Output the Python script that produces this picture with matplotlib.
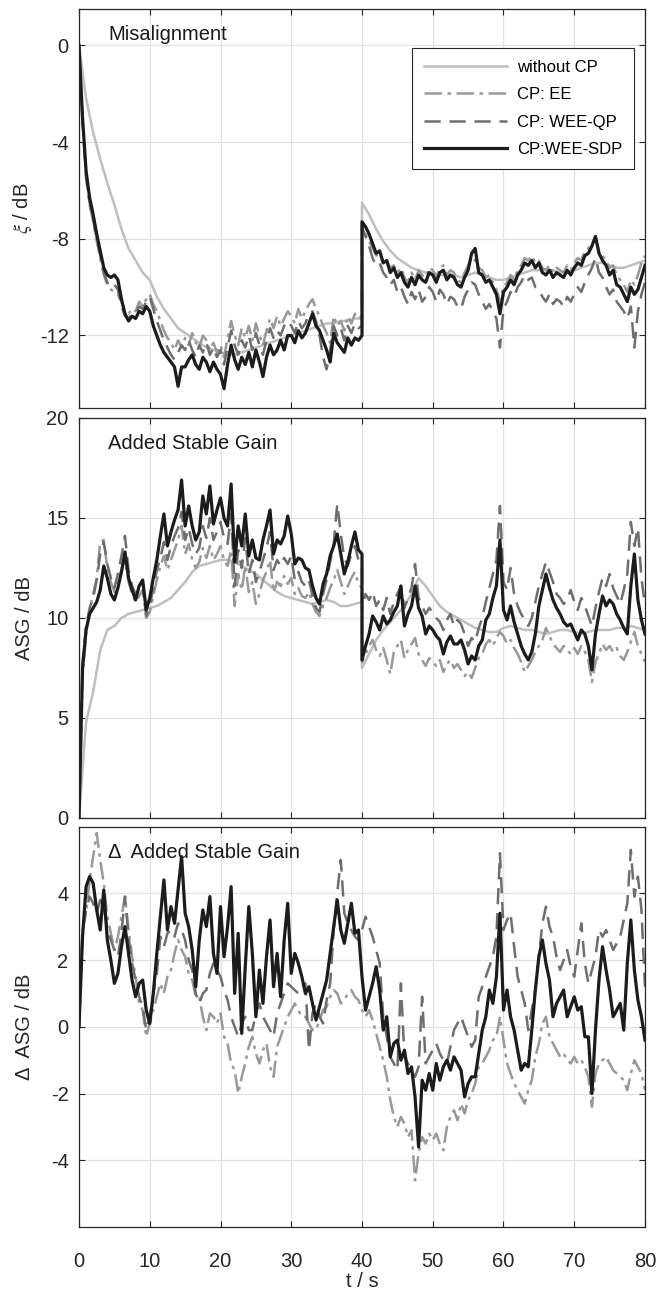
import numpy as np
import matplotlib.pyplot as plt

# ---------------------------------------------------------------------------
# Data. Grids: 0..40 s and 40..80 s with 0.5 s steps,
# the reference curve "without CP" with 1 s steps. t = 40 s appears in both
# halves so the jump at the change of the path is drawn vertically.
# ---------------------------------------------------------------------------
t_a = np.linspace(0, 40, 81)
t_b = np.linspace(40, 80, 81)
t_a1 = np.linspace(0, 40, 41)
t_b1 = np.linspace(40, 80, 41)
t_full = np.linspace(0, 80, 161)

etiquetas = ['without CP', 'CP: EE', 'CP: WEE-QP', 'CP:WEE-SDP']

# --- Misalignment xi / dB ---
xi_woc_a = [0, -2.2, -3.6, -4.7, -5.7, -6.6, -7.6, -8.4, -8.9, -9.4,
            -9.7, -10.4, -10.9, -11.3, -11.7, -11.9, -12.1, -12.3, -12.5, -12.6,
            -12.7, -12.8, -12.8, -12.7, -12.6, -12.5, -12.4, -12.3, -12.2, -12.1,
            -12.0, -11.9, -11.8, -11.7, -11.6, -11.5, -11.5, -11.4, -11.4, -11.3,
            -11.3]
xi_woc_b = [-6.5, -7.0, -7.6, -8.1, -8.5, -8.8, -9.0, -9.2, -9.3, -9.4,
            -9.4, -9.5, -9.5, -9.5, -9.6, -9.5, -9.4, -9.5, -9.6, -9.7,
            -9.7, -9.6, -9.5, -9.4, -9.3, -9.3, -9.3, -9.3, -9.4, -9.4,
            -9.3, -9.2, -9.1, -9.0, -9.0, -9.1, -9.2, -9.2, -9.1, -9.0,
            -8.9]

xi_ee_a = [0, -3.2, -5.5, -6.6, -7.3, -8.1, -8.8, -9.5, -9.9, -10.1, -10.2, -10.3, -10.6, -11.0, -11.1, -10.9, -11.0, -10.6, -10.8, -10.5,
           -10.3, -10.7, -11.0, -11.4, -11.8, -12.1, -12.3, -12.6, -12.2, -12.5, -12.1, -12.4, -11.9, -12.3, -12.5, -12.0, -12.2, -12.6, -12.3, -12.7,
           -12.4, -12.9, -12.1, -11.4, -12.0, -12.4, -11.7, -12.1, -11.6, -12.2, -11.5, -12.0, -12.4, -11.8, -11.3, -11.7, -11.2, -11.6, -11.3, -11.0,
           -11.2, -11.5, -10.9, -11.3, -11.0, -10.7, -10.5, -10.9, -11.2, -11.6, -11.9, -12.3, -11.2, -11.6, -11.4, -11.8, -11.2, -11.5, -11.1, -11.3,
           -11.2]
xi_ee_b = [-7.6, -7.8, -8.1, -8.4, -8.7, -8.6, -9.0, -8.9, -9.2, -9.1, -9.4, -9.2, -9.6, -9.8, -9.4, -9.7, -9.3, -9.5, -9.6, -9.2,
           -9.3, -9.6, -9.2, -9.1, -9.5, -9.3, -9.4, -9.7, -9.8, -9.4, -9.1, -8.8, -8.9, -9.2, -9.3, -9.6, -9.5, -9.8, -10.1, -10.6,
           -10.0, -9.8, -9.5, -9.7, -9.3, -9.1, -8.8, -8.9, -8.7, -9.0, -8.9, -9.2, -9.3, -9.1, -9.4, -9.2, -9.3, -9.4, -9.1, -9.3,
           -9.0, -8.8, -8.9, -8.5, -8.4, -8.2, -8.0, -8.5, -8.7, -8.9, -9.2, -9.1, -9.5, -9.7, -9.9, -10.2, -9.7, -9.9, -9.5, -9.0,
           -8.7]

xi_qp_a = [0, -3.1, -5.4, -6.5, -7.2, -8.0, -8.7, -9.4, -9.8, -10.0, -9.9, -10.1, -10.8, -11.2, -11.3, -11.1, -11.1, -10.8, -10.9, -10.6,
           -10.4, -10.9, -11.4, -11.8, -12.2, -12.5, -12.8, -13.0, -12.7, -12.4, -12.6, -12.2, -12.6, -12.9, -12.4, -12.7, -12.3, -12.8, -12.5, -12.9,
           -12.6, -13.2, -12.5, -11.8, -12.4, -12.8, -12.2, -12.5, -12.0, -12.6, -11.9, -12.4, -12.8, -12.2, -11.7, -12.1, -11.8, -12.0, -11.6, -11.4,
           -11.6, -11.9, -11.4, -11.7, -11.5, -11.1, -11.0, -11.4, -12.0, -12.9, -13.4, -12.6, -11.6, -12.0, -11.7, -12.2, -11.6, -11.9, -11.5, -11.7,
           -11.6]
xi_qp_b = [-7.5, -7.9, -8.3, -8.8, -9.1, -9.0, -9.4, -9.6, -9.9, -9.7, -10.2, -10.0, -10.4, -10.7, -10.2, -10.5, -10.1, -10.6, -10.4, -10.0,
           -10.2, -10.6, -10.1, -10.3, -10.7, -10.4, -10.5, -10.8, -10.9, -10.4, -10.1, -9.8, -9.9, -10.3, -10.6, -10.9, -10.7, -11.0, -11.3, -12.5,
           -10.9, -10.6, -10.2, -10.4, -10.0, -9.8, -9.5, -9.7, -9.6, -10.0, -10.1, -10.4, -10.6, -10.3, -10.7, -10.5, -10.6, -10.8, -10.4, -10.6,
           -10.3, -10.0, -10.2, -9.8, -9.5, -9.2, -8.8, -9.4, -9.6, -10.0, -10.3, -10.1, -10.6, -10.8, -11.0, -11.3, -10.8, -12.5, -11.0, -10.3,
           -9.8]

xi_sdp_a = [0, -3.0, -5.2, -6.3, -7.0, -7.8, -8.5, -9.2, -9.5, -9.6, -9.5, -9.7, -10.5, -11.1, -11.4, -11.2, -11.3, -11.0, -11.1, -10.8,
            -11.0, -11.6, -12.0, -12.4, -12.7, -12.9, -13.1, -13.3, -14.1, -13.3, -13.3, -13.0, -12.8, -13.2, -13.4, -12.9, -13.1, -13.5, -13.1, -13.4,
            -13.6, -14.2, -13.2, -12.4, -13.0, -13.4, -12.9, -13.2, -12.7, -13.3, -12.6, -13.1, -13.7, -12.9, -12.4, -12.8, -12.6, -12.2, -12.6, -12.0,
            -12.0, -12.3, -11.8, -12.1, -11.9, -11.5, -11.1, -11.6, -11.8, -12.2, -12.6, -13.1, -11.9, -12.3, -12.5, -12.7, -12.1, -12.4, -12.1, -12.2,
            -12.0]
xi_sdp_b = [-7.3, -7.5, -7.8, -8.2, -8.6, -8.5, -9.0, -8.9, -9.4, -9.2, -9.6, -9.4, -9.8, -10.0, -9.6, -9.9, -9.5, -9.7, -9.8, -9.4,
            -9.5, -9.8, -9.4, -9.3, -9.7, -9.5, -9.6, -9.9, -10.0, -9.6, -9.3, -8.6, -8.4, -9.4, -9.5, -9.8, -9.7, -10.0, -10.3, -11.1,
            -10.2, -10.0, -9.7, -9.9, -9.5, -9.3, -9.0, -9.1, -8.9, -9.2, -9.0, -9.4, -9.5, -9.3, -9.6, -9.4, -9.5, -9.6, -9.3, -9.5,
            -9.2, -9.0, -9.1, -8.7, -8.6, -8.3, -7.9, -8.6, -8.9, -9.1, -9.5, -9.3, -9.9, -10.0, -10.3, -10.6, -10.0, -10.3, -10.1, -9.6,
            -9.1]

# --- Added Stable Gain ASG / dB ---
asg_woc_a = [0, 4.8, 6.3, 8.4, 9.4, 9.6, 10.0, 10.2, 10.3, 10.4,
             10.5, 10.6, 10.8, 11.0, 11.4, 11.8, 12.3, 12.6, 12.7, 12.8,
             12.9, 12.9, 12.8, 12.6, 12.4, 12.2, 11.9, 11.6, 11.3, 11.1,
             11.0, 10.9, 10.8, 10.7, 10.8, 10.9, 10.8, 10.6, 10.6, 10.7,
             10.8]
asg_woc_b = [7.5, 8.2, 8.9, 9.4, 9.8, 10.2, 10.6, 11.2, 12.0, 11.6,
             11.1, 10.6, 10.3, 10.1, 9.9, 9.7, 9.5, 9.4, 9.3, 9.3,
             9.5, 9.6, 9.5, 9.4, 9.4, 9.3, 9.2, 9.3, 9.4, 9.4,
             9.3, 9.2, 9.3, 9.4, 9.4, 9.4, 9.5, 9.5, 9.6, 9.5,
             9.4]

asg_ee_a = [0, 7.0, 9.2, 10.4, 11.2, 12.0, 13.8, 13.9, 12.5, 11.8, 11.3, 11.9, 12.4, 12.9, 11.8, 11.2, 10.8, 11.1, 11.4, 10.0,
            10.3, 11.1, 11.9, 12.6, 13.1, 12.4, 12.9, 13.4, 13.9, 14.6, 13.2, 13.7, 12.9, 12.5, 12.8, 13.5, 13.0, 13.6, 12.9, 13.2,
            13.6, 12.9, 12.6, 13.4, 10.6, 12.2, 11.4, 12.6, 11.3, 11.8, 10.7, 11.2, 11.9, 12.3, 12.9, 11.3, 11.8, 11.6, 12.1, 11.7,
            12.0, 11.2, 11.5, 11.1, 11.0, 11.3, 10.7, 10.3, 10.1, 10.6, 11.0, 11.5, 11.9, 12.4, 11.8, 11.2, 11.6, 12.0, 12.3, 11.7,
            11.5]
asg_ee_b = [7.8, 8.2, 8.6, 8.9, 8.4, 8.1, 8.5, 7.9, 7.2, 8.3, 8.6, 8.9, 8.0, 8.4, 8.7, 9.0, 8.2, 7.9, 7.6, 8.0,
            7.8, 7.6, 7.9, 7.3, 7.7, 7.9, 7.5, 7.7, 7.4, 7.1, 7.3, 7.0, 7.5, 8.0, 8.2, 8.7, 8.9, 8.6, 9.0, 9.3,
            9.1, 8.7, 8.9, 8.5, 8.2, 7.8, 7.3, 7.6, 7.9, 8.3, 8.6, 8.9, 9.5, 9.1, 8.7, 8.5, 8.3, 8.6, 8.4, 8.2,
            8.5, 8.2, 8.6, 8.3, 7.9, 6.8, 7.8, 8.2, 8.7, 8.4, 8.6, 8.3, 8.5, 8.1, 7.9, 8.3, 8.8, 9.3, 8.6, 8.2,
            7.8]

asg_qp_a = [0, 7.8, 9.6, 10.5, 11.0, 11.9, 13.2, 13.8, 12.7, 12.0, 11.5, 12.2, 13.1, 14.1, 12.4, 11.6, 11.2, 11.4, 11.8, 10.1,
            10.6, 11.5, 12.4, 13.0, 13.8, 12.9, 13.6, 14.1, 14.5, 15.3, 13.9, 14.5, 13.7, 13.2, 13.5, 14.6, 14.0, 15.0, 13.9, 14.3,
            14.8, 14.0, 13.7, 15.2, 11.6, 13.4, 12.5, 14.0, 12.2, 12.9, 11.8, 12.3, 12.9, 13.5, 14.3, 12.4, 12.9, 12.6, 13.0, 12.7,
            13.1, 11.9, 12.3, 11.8, 11.6, 11.9, 11.1, 10.5, 10.3, 11.2, 11.9, 12.8, 13.7, 15.7, 14.2, 13.0, 12.6, 13.2, 13.6, 12.9,
            12.5]
asg_qp_b = [10.5, 11.2, 10.9, 11.3, 10.6, 10.9, 10.4, 11.0, 10.2, 10.8, 11.2, 11.6, 10.5, 11.0, 11.5, 12.7, 11.0, 10.6, 10.2, 10.5,
            10.3, 10.0, 9.8, 9.4, 9.9, 10.2, 9.6, 9.9, 9.7, 9.2, 8.6, 9.0, 8.8, 9.5, 10.0, 10.8, 11.5, 12.2, 12.9, 15.6,
            11.8, 11.4, 12.5, 11.2, 10.6, 10.2, 9.9, 9.6, 10.0, 10.8, 11.6, 12.2, 12.8, 12.3, 11.8, 11.2, 11.0, 10.7, 10.9, 11.4,
            10.8, 10.4, 11.0, 10.6, 10.1, 9.6, 10.5, 11.3, 12.0, 11.6, 12.2, 11.5, 11.1, 10.7, 11.4, 12.2, 14.8, 13.6, 14.5, 12.0,
            10.6]

asg_sdp_a = [0, 7.5, 9.4, 10.2, 10.5, 10.8, 11.4, 12.6, 12.0, 11.2, 10.9, 11.5, 12.3, 13.3, 12.0, 11.4, 10.9, 11.6, 11.9, 10.4,
             11.0, 12.0, 12.9, 14.1, 15.2, 13.6, 14.3, 14.9, 15.4, 16.9, 14.6, 15.6, 14.6, 13.9, 14.3, 16.1, 15.2, 16.6, 14.7, 15.4,
             16.0, 15.0, 14.6, 16.7, 12.8, 14.6, 13.6, 15.2, 13.1, 13.9, 13.0, 12.9, 13.9, 14.6, 15.4, 13.2, 13.9, 13.7, 14.1, 15.1,
             14.2, 12.7, 13.0, 12.9, 12.5, 12.4, 11.6, 11.0, 10.7, 11.7, 12.2, 13.1, 13.6, 14.2, 13.2, 12.2, 12.8, 13.6, 14.3, 13.4,
             13.2]
asg_sdp_b = [7.9, 8.6, 9.2, 10.1, 9.8, 9.4, 10.1, 9.7, 9.9, 10.3, 10.6, 11.6, 9.6, 10.2, 10.6, 11.6, 10.5, 10.1, 9.2, 9.6,
             9.4, 9.1, 8.9, 8.2, 8.8, 9.1, 8.7, 8.7, 8.9, 8.4, 7.7, 8.1, 7.9, 8.6, 8.9, 9.9, 10.2, 11.0, 11.6, 13.9,
             10.4, 9.9, 10.6, 9.8, 9.2, 8.6, 8.2, 7.9, 8.3, 9.2, 10.6, 11.4, 12.2, 11.5, 10.9, 10.5, 10.2, 9.8, 9.6, 9.7,
             9.3, 8.9, 9.4, 9.2, 8.6, 7.4, 9.2, 10.2, 11.1, 10.6, 10.9, 10.7, 10.2, 9.9, 9.5, 9.2, 11.6, 13.2, 10.9, 9.9,
             9.2]

# --- Delta Added Stable Gain / dB (0..80 s, 0.5 s steps) ---
dasg_ee = [0, 2.9, 3.4, 4.4, 5.1, 5.8, 5.0, 4.3, 3.3, 2.8, 2.3, 2.7, 3.3, 3.9, 2.9, 2.1, 1.5, 0.7, 0.5, -0.3,
           0.1, 0.5, 0.9, 1.3, 1.0, 1.5, 1.7, 2.2, 2.6, 2.3, 2.1, 1.6, 1.4, 0.9, 0.9, 0.3, -0.1, 0.4, 0.3, 0.1,
           0.4, -0.3, -0.5, -1.1, -1.3, -2.0, -1.5, -1.1, -0.6, -0.3, -0.8, -1.1, -0.7, -0.5, -1.2, -1.5, -0.6, -0.3, 0.0, 0.3,
           0.5, 0.7, 0.5, 0.3, 0.3, 0.1, -0.1, -0.1, 0.2, 0.5, 0.6, 0.9, 1.1, 1.0, 0.7, 0.8, 1.0, 1.1, 0.9, 0.8,
           0.5, 0.3, 0.5, 0.2, -0.2, -0.6, -1.0, -1.5, -2.2, -2.7, -3.0, -2.7, -2.9, -3.3, -3.1, -4.6, -3.8, -3.3, -3.5, -3.2,
           -3.4, -3.2, -3.5, -3.7, -3.0, -2.7, -2.5, -2.8, -2.3, -2.6, -2.2, -2.0, -1.7, -1.2, -1.1, -0.9, -0.7, -0.4, -0.3, 0.3,
           -0.4, -1.1, -1.4, -1.7, -1.9, -2.1, -2.3, -1.9, -1.6, -0.9, -0.5, 0.1, 0.3, -0.3, -0.5, -0.7, -0.9, -0.8, -1.0, -1.1,
           -0.9, -1.1, -1.0, -1.2, -1.5, -2.4, -1.4, -1.1, -1.0, -0.9, -1.1, -1.3, -1.4, -1.5, -1.6, -1.9, -1.4, -1.0, -1.2, -1.4,
           -1.9]
dasg_qp = [0, 2.9, 3.5, 3.9, 3.7, 3.4, 3.8, 3.6, 2.9, 2.6, 2.3, 2.1, 2.8, 3.9, 2.7, 1.9, 1.4, 0.9, 0.6, -0.1,
           0.3, 1.0, 1.6, 2.7, 2.4, 2.8, 2.9, 2.7, 3.1, 2.9, 2.6, 2.0, 1.7, 1.0, 0.7, 1.0, 1.1, 1.6, 1.9, 1.7,
           1.5, 1.1, 0.8, 0.3, 0.0, -0.3, 0.1, 0.3, -0.1, -0.1, 0.4, 0.7, 0.3, 0.1, -0.1, -0.3, 0.4, 0.7, 1.0, 1.3,
           1.2, 1.1, 1.0, 1.2, 1.3, -0.7, 0.4, 0.7, 0.3, 0.1, 0.8, 1.3, 2.9, 4.0, 5.0, 3.4, 3.1, 2.9, 2.7, 2.6,
           2.9, 3.3, 3.0, 2.7, 2.3, 1.9, 0.3, -0.3, -0.9, -1.1, -1.3, 1.3, -0.9, -1.1, -1.3, -1.5, -1.2, 0.9, -1.1, -0.9,
           -0.7, -0.5, -0.8, -1.0, -1.1, -0.6, -0.1, 0.1, 0.3, 0.0, -0.3, -0.6, -0.4, 0.9, 1.2, 1.5, 1.8, 2.1, 2.7, 5.2,
           2.9, 3.2, 3.4, 2.4, 1.5, 1.1, 0.7, -0.1, 0.5, 1.1, 2.1, 3.1, 3.6, 3.0, 2.7, 2.1, 1.7, 2.0, 2.3, 1.8,
           1.5, 2.3, 3.1, 1.9, 1.3, 1.7, 2.1, 2.9, 2.7, 2.9, 2.6, 2.3, 2.5, 2.7, 3.2, 3.7, 5.3, 3.9, 4.5, 3.5,
           1.2]
dasg_sdp = [0, 2.7, 4.2, 4.5, 4.3, 3.5, 2.9, 4.1, 2.6, 2.0, 1.3, 1.6, 2.4, 3.0, 2.2, 1.4, 0.9, 1.3, 1.4, 0.5,
            0.1, 1.0, 2.2, 3.3, 4.4, 2.9, 3.6, 3.1, 4.1, 5.1, 3.4, 3.0, 2.3, 1.2, 2.6, 3.5, 3.0, 3.9, 2.2, 1.6,
            3.6, 2.1, 3.0, 4.2, 1.0, 2.8, -0.2, 1.8, 3.6, 2.2, 0.3, 1.7, 0.7, 2.1, 3.2, 1.2, 2.2, 0.9, 2.6, 3.7,
            1.6, 2.2, 1.9, 1.5, 1.0, 1.2, 0.7, 0.2, 0.6, 1.0, 1.4, 2.2, 3.0, 3.8, 2.9, 2.5, 3.1, 3.7, 2.8, 2.9,
            1.5, 0.5, 0.9, 1.3, 1.8, 1.1, -0.1, 0.3, -0.9, -0.5, -0.4, -1.0, -0.7, -1.4, -1.2, -2.1, -3.6, -1.6, -1.9, -1.4,
            -1.9, -1.1, -1.6, -1.2, -1.0, -1.3, -0.9, -1.1, -1.3, -2.1, -1.7, -1.5, -1.5, -0.8, -0.1, 0.3, 1.1, 0.7, 1.5, 3.4,
            0.5, 1.1, 0.3, -0.1, -0.7, -1.3, -1.1, -1.2, -0.1, 1.1, 2.1, 2.6, 1.9, 1.4, 0.3, 0.7, 0.9, 1.1, 0.3, 0.6,
            0.9, 0.5, 0.6, -0.3, -0.3, -2.0, -0.1, 1.4, 2.4, 1.7, 1.1, 0.3, 0.5, 0.7, -0.1, 1.9, 3.2, 1.7, 0.8, 0.3,
            -0.4]

# ---------------------------------------------------------------------------
plt.rcParams['font.family'] = ['Liberation Sans', 'DejaVu Sans']
plt.rcParams['mathtext.fontset'] = 'stix'
plt.rcParams['axes.unicode_minus'] = False

GRIS_EJE = '#262626'
ESTILOS = [
    dict(color='#bfbfbf', lw=1.8, ls='-'),
    dict(color='#999999', lw=1.8, dashes=(7, 2.2, 1.4, 2.2)),
    dict(color='#6e6e6e', lw=1.8, dashes=(6.5, 3.5)),
    dict(color='#1c1c1c', lw=2.3, ls='-'),
]


def preparar_ejes(ax, ylim, yticks, ylabel, titulo, ver_x=False):
    ax.set_xlim(0, 80)
    ax.set_ylim(*ylim)
    ax.set_xticks(range(0, 81, 10))
    ax.set_yticks(yticks)
    ax.grid(True, color='#e2e2e2', lw=0.9)
    ax.set_axisbelow(True)
    ax.tick_params(direction='in', top=True, right=True, length=4, width=0.8,
                   colors=GRIS_EJE, labelsize=14.5)
    ax.tick_params(axis='x', pad=18, labelbottom=ver_x)
    ax.tick_params(axis='y', pad=7.5)
    for s in ax.spines.values():
        s.set_color(GRIS_EJE)
        s.set_linewidth(0.9)
    ax.set_ylabel(ylabel, fontsize=14.5, color=GRIS_EJE)
    ax.yaxis.set_label_coords(-0.08, 0.5)
    ax.text(0.052, 0.935, titulo, transform=ax.transAxes, fontsize=14.5,
            color='#1a1a1a', va='center', ha='left')


def unir(a, b):
    return np.concatenate([a, b])


fig = plt.figure(figsize=(6.69, 12.9), dpi=100)
ax1 = fig.add_axes([0.1181, 0.6837, 0.846, 0.3093])
ax2 = fig.add_axes([0.1181, 0.3659, 0.846, 0.3101])
ax3 = fig.add_axes([0.1181, 0.0488, 0.846, 0.3105])

# Misalignment
series_xi = [(unir(t_a1, t_b1), unir(xi_woc_a, xi_woc_b)),
             (unir(t_a, t_b), unir(xi_ee_a, xi_ee_b)),
             (unir(t_a, t_b), unir(xi_qp_a, xi_qp_b)),
             (unir(t_a, t_b), unir(xi_sdp_a, xi_sdp_b))]
for (t, y), est, lab in zip(series_xi, ESTILOS, etiquetas):
    ax1.plot(t, y, label=lab, **est)
preparar_ejes(ax1, (-15, 1.5), [-12, -8, -4, 0], r'$\xi$ / dB', 'Misalignment')
leg = ax1.legend(loc='upper right', bbox_to_anchor=(0.9806, 0.902),
                 borderaxespad=0, handlelength=5, fontsize=12, fancybox=False,
                 edgecolor=GRIS_EJE, framealpha=1, labelspacing=0.75,
                 handletextpad=0.6, borderpad=0.7)
leg.get_frame().set_linewidth(0.8)

# Added Stable Gain
series_asg = [(unir(t_a1, t_b1), unir(asg_woc_a, asg_woc_b)),
              (unir(t_a, t_b), unir(asg_ee_a, asg_ee_b)),
              (unir(t_a, t_b), unir(asg_qp_a, asg_qp_b)),
              (unir(t_a, t_b), unir(asg_sdp_a, asg_sdp_b))]
for (t, y), est in zip(series_asg, ESTILOS):
    ax2.plot(t, y, **est)
preparar_ejes(ax2, (0, 20), [0, 5, 10, 15, 20], 'ASG / dB', 'Added Stable Gain')

# Delta Added Stable Gain (no reference curve)
for y, est in zip([dasg_ee, dasg_qp, dasg_sdp], ESTILOS[1:]):
    ax3.plot(t_full, y, **est)
preparar_ejes(ax3, (-6, 6), [-4, -2, 0, 2, 4], '\u0394  ASG / dB',
              '\u0394  Added Stable Gain', ver_x=True)
ax3.set_xlabel('t / s', fontsize=14.5, color=GRIS_EJE, labelpad=1)

fig.savefig('out.png', dpi=100)
